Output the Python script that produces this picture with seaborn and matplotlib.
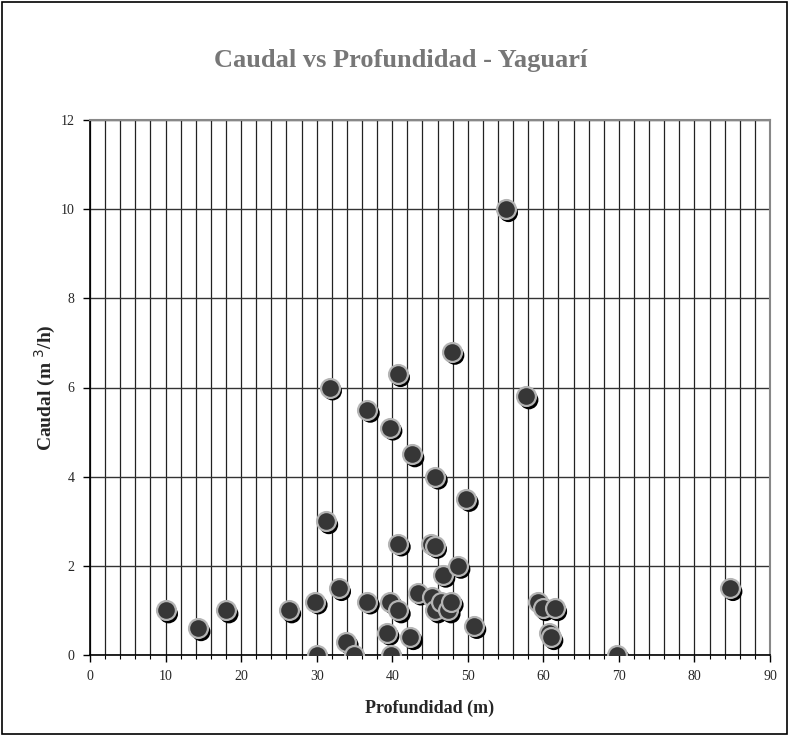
import matplotlib
matplotlib.use("Agg")
import matplotlib.pyplot as plt
import matplotlib.transforms as mtransforms
from matplotlib.patches import Rectangle
import seaborn as sns
import pandas as pd
import numpy as np

# Well depth (m) and yield (m3/h)
profundidad = [10, 14.3, 18, 26.3, 29.8, 30, 31.2, 31.7, 32.9, 33.9, 34.9,
               36.7, 36.7, 39.3, 39.7, 39.7, 39.8, 40.7, 40.8, 40.8, 42.4,
               42.6, 43.4, 45.2, 45.1, 45.6, 45.7, 45.7, 46.5, 46.7, 47.4,
               47.8, 47.9, 48.7, 49.8, 50.8, 55.0, 57.7, 59.3, 59.9, 61.5,
               60.7, 61.0, 69.8, 84.7]
caudal = [1.0, 0.6, 1.0, 1.0, 1.2, 0.0, 3.0, 6.0, 1.5, 0.3, 0.0,
          5.5, 1.2, 0.5, 5.1, 1.2, 0.0, 6.3, 2.5, 1.0, 0.4,
          4.5, 1.4, 1.3, 2.5, 2.45, 4.0, 1.0, 1.2, 1.8, 1.0,
          1.2, 6.8, 2.0, 3.5, 0.65, 10.0, 5.8, 1.2, 1.05, 1.05,
          0.5, 0.4, 0.0, 1.5]

df = pd.DataFrame({"Profundidad": profundidad, "Caudal": caudal})

sns.set_theme(style="white")
plt.rcParams["font.family"] = ["Liberation Serif", "DejaVu Serif"]

fig = plt.figure(figsize=(7.89, 7.36), dpi=100)
ax = fig.add_axes([90 / 789, 1 - 655 / 736, 680 / 789, 535 / 736])

# drop shadow under each marker
sns.scatterplot(data=df, x="Profundidad", y="Caudal", ax=ax, s=185,
                color="black", edgecolor="none", linewidth=0, zorder=3,
                legend=False)
shadow = ax.collections[-1]
shadow.set_offset_transform(ax.transData + mtransforms.ScaledTranslation(
    3 / 100, -3.5 / 100, fig.dpi_scale_trans))

sns.scatterplot(data=df, x="Profundidad", y="Caudal", ax=ax, s=185,
                color="#363636", edgecolor="#b4b4b4", linewidth=1.6,
                zorder=4, legend=False)

ax.set_xlim(0, 90)
ax.set_ylim(0, 12)
ax.set_xticks(np.arange(0, 91, 10))
ax.set_xticks(np.arange(0, 91, 2), minor=True)
ax.set_yticks(np.arange(0, 13, 2))

ax.grid(True, which="both", axis="x", color="#222222", linewidth=0.9)
ax.grid(True, which="major", axis="y", color="#333333", linewidth=1.0)
ax.set_axisbelow(True)

ax.tick_params(axis="both", which="major", direction="out", length=5,
               width=1, color="black", labelsize=10, pad=6, bottom=True,
               left=True)
ax.tick_params(axis="x", which="minor", direction="out", length=3, width=0.8,
               color="black", bottom=True)

for side in ("left", "bottom"):
    ax.spines[side].set_color("black")
    ax.spines[side].set_linewidth(1.2)
for side in ("top", "right"):
    ax.spines[side].set_color("#888888")
    ax.spines[side].set_linewidth(1.5)

ax.set_xlabel("Profundidad (m)", fontsize=13, fontweight="bold", labelpad=12)
ax.set_ylabel("Caudal (m $^{3}$/h)", fontsize=14, fontweight="bold",
              labelpad=2)

fig.text(401 / 789, 1 - 60 / 736, "Caudal vs Profundidad - Yaguarí",
         ha="center", va="center", fontsize=19, fontweight="bold",
         color="#777777")

# outer frame of the chart area
fig.patches.append(Rectangle((2 / 789, 2 / 736), 785 / 789, 732 / 736,
                             transform=fig.transFigure, fill=False,
                             edgecolor="black", linewidth=1.2))

fig.savefig("out.png", dpi=100)
